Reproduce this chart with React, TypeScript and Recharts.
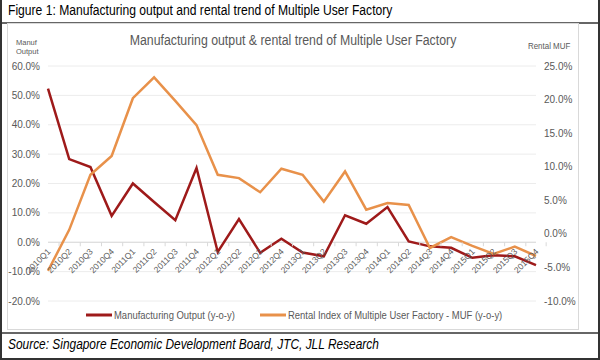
import React from 'react';
import { LineChart, Line, XAxis, YAxis, CartesianGrid, ReferenceLine } from 'recharts';

// quarters on the x axis
const quarters = [
  '2010Q1', '2010Q2', '2010Q3', '2010Q4',
  '2011Q1', '2011Q2', '2011Q3', '2011Q4',
  '2012Q1', '2012Q2', '2012Q3', '2012Q4',
  '2013Q1', '2013Q2', '2013Q3', '2013Q4',
  '2014Q1', '2014Q2', '2014Q3', '2014Q4',
  '2015Q1', '2015Q2', '2015Q3', '2015Q4',
];

// y-o-y %, left axis
const manufOutput = [
  52.3, 28.3, 25.6, 9.0,
  20.0, 13.7, 7.5, 25.3,
  -3.3, 7.9, -3.6, 1.2,
  -3.5, -4.8, 9.2, 6.3,
  12.0, 0.3, -1.4, -1.9,
  -5.3, -4.4, -4.8, -7.8,
];

// y-o-y %, right axis
const rentalMuf = [
  -5.5, 0.6, 8.8, 11.6,
  20.2, 23.3, 19.8, 16.2,
  8.8, 8.3, 6.2, 9.7,
  8.8, 4.8, 9.3, 3.6,
  4.6, 4.3, -2.1, -0.5,
  -1.8, -3.0, -1.9, -3.3,
];

const leftTicks = [-20, -10, 0, 10, 20, 30, 40, 50, 60];
const rightTicks = [-10, -5, 0, 5, 10, 15, 20, 25];

const data = quarters.map((q, i) => ({ q, manuf: manufOutput[i], rental: rentalMuf[i] }));

const FONT = "'Liberation Sans', Arial, sans-serif";
const GREY = '#595959';
const RED = '#9e1a1a';
const ORANGE = '#e8914a';

// plot box (chart coords)
const PLOT_TOP = 66;
const PLOT_BOTTOM = 301;
const PLOT_LEFT = 48;
const PLOT_RIGHT = 536;
const ZERO_Y = PLOT_TOP + (PLOT_BOTTOM - PLOT_TOP) * (60 / 80);
const BAND = (PLOT_RIGHT - PLOT_LEFT) / quarters.length;

const pct = (v: number) => `${v.toFixed(1)}%`;

// the source image is horizontally squeezed, so text gets a scaleX
const squeeze = (s: number, origin = 'left center'): React.CSSProperties => ({
  transform: `scaleX(${s})`,
  transformOrigin: origin,
  whiteSpace: 'nowrap',
});

// category labels sit on the 0% line, not at the bottom of the plot
const QuarterTick = ({ x, payload, index }: any) => (
  <g>
    <line x1={x - BAND / 2} y1={ZERO_Y} x2={x - BAND / 2} y2={ZERO_Y + 4} stroke="#d9d9d9" />
    {index === quarters.length - 1 && (
      <line x1={x + BAND / 2} y1={ZERO_Y} x2={x + BAND / 2} y2={ZERO_Y + 4} stroke="#d9d9d9" />
    )}
    <text
      x={x + 3}
      y={ZERO_Y + 10}
      transform={`rotate(-45, ${x + 3}, ${ZERO_Y + 10})`}
      textAnchor="end"
      fontSize={8.5}
      fill={GREY}
      fontFamily={FONT}
    >
      {payload.value}
    </text>
  </g>
);

const LegendItem = ({ color, label, left }: { color: string; label: string; left: number }) => (
  <div style={{ position: 'absolute', left, top: 309, display: 'flex', alignItems: 'center', whiteSpace: 'nowrap' }}>
    <svg width={26} height={12}>
      <line x1={0} y1={6} x2={26} y2={6} stroke={color} strokeWidth={3} />
    </svg>
    <span style={{ fontSize: 10.5, color: GREY, marginLeft: 2, display: 'inline-block', ...squeeze(0.9) }}>
      {label}
    </span>
  </div>
);

export default function App() {
  return (
    <div
      style={{
        position: 'absolute',
        left: 0,
        top: 0,
        width: 600,
        height: 360,
        background: '#fff',
        fontFamily: FONT,
        boxSizing: 'border-box',
        borderLeft: '2px solid #333',
        borderRight: '2px solid #333',
        borderBottom: '2px solid #333',
        overflow: 'hidden',
      }}
    >
      {/* figure caption + separators */}
      <div style={{ position: 'absolute', left: 6, top: 2, fontSize: 14, color: '#000', ...squeeze(0.865) }}>
        Figure 1: Manufacturing output and rental trend of Multiple User Factory
      </div>
      <div style={{ position: 'absolute', left: 0, top: 22, width: 600, height: 2, background: '#666' }} />
      <div style={{ position: 'absolute', left: 0, top: 332, width: 600, height: 2, background: '#666' }} />

      {/* chart box */}
      <div
        style={{
          position: 'absolute',
          left: 5,
          top: 23,
          width: 570,
          height: 305,
          border: '1px solid #d9d9d9',
          background: '#fff',
        }}
      />

      <div style={{ position: 'absolute', left: -2, top: 0 }}>
        <LineChart
          width={600}
          height={330}
          data={data}
          margin={{ top: PLOT_TOP, right: 4, bottom: 9, left: 4 }}
        >
          <CartesianGrid yAxisId="left" vertical={false} stroke="#ececec" />
          <XAxis
            dataKey="q"
            height={20}
            axisLine={false}
            tickLine={false}
            interval={0}
            tick={<QuarterTick />}
          />
          <YAxis
            yAxisId="left"
            width={44}
            domain={[-20, 60]}
            ticks={leftTicks}
            tickFormatter={pct}
            axisLine={false}
            tickLine={false}
            tick={{ fontSize: 10, fill: GREY, fontFamily: FONT }}
          />
          <YAxis
            yAxisId="right"
            orientation="right"
            width={60}
            domain={[-10, 25]}
            ticks={rightTicks}
            tickFormatter={pct}
            axisLine={false}
            tickLine={false}
            tick={{ fontSize: 10, fill: GREY, fontFamily: FONT, textAnchor: 'start' }}
          />
          <ReferenceLine yAxisId="left" y={0} stroke="#d9d9d9" />
          <Line
            yAxisId="left"
            type="linear"
            dataKey="manuf"
            stroke={RED}
            strokeWidth={2.5}
            dot={false}
            isAnimationActive={false}
          />
          <Line
            yAxisId="right"
            type="linear"
            dataKey="rental"
            stroke={ORANGE}
            strokeWidth={2.5}
            dot={false}
            isAnimationActive={false}
          />
        </LineChart>
      </div>

      {/* titles */}
      <div style={{ position: 'absolute', left: 0, width: 582, top: 32, textAlign: 'center', fontSize: 14, color: GREY, ...squeeze(0.88, '291px center') }}>
        Manufacturing output &amp; rental trend of Multiple User Factory
      </div>
      <div style={{ position: 'absolute', left: 14, top: 38, fontSize: 7.5, lineHeight: '9px', color: '#595959' }}>
        Manuf
        <br />
        Output
      </div>
      <div style={{ position: 'absolute', left: 526, top: 41, fontSize: 9, color: GREY, ...squeeze(0.88) }}>
        Rental MUF
      </div>

      <LegendItem color={RED} label="Manufacturing Output (y-o-y)" left={84} />
      <LegendItem color={ORANGE} label="Rental Index of Multiple User Factory - MUF  (y-o-y)" left={258} />

      <div style={{ position: 'absolute', left: 6, top: 336, fontSize: 14, fontStyle: 'italic', color: '#000', ...squeeze(0.85) }}>
        Source: Singapore Economic Development Board, JTC, JLL Research
      </div>
    </div>
  );
}
